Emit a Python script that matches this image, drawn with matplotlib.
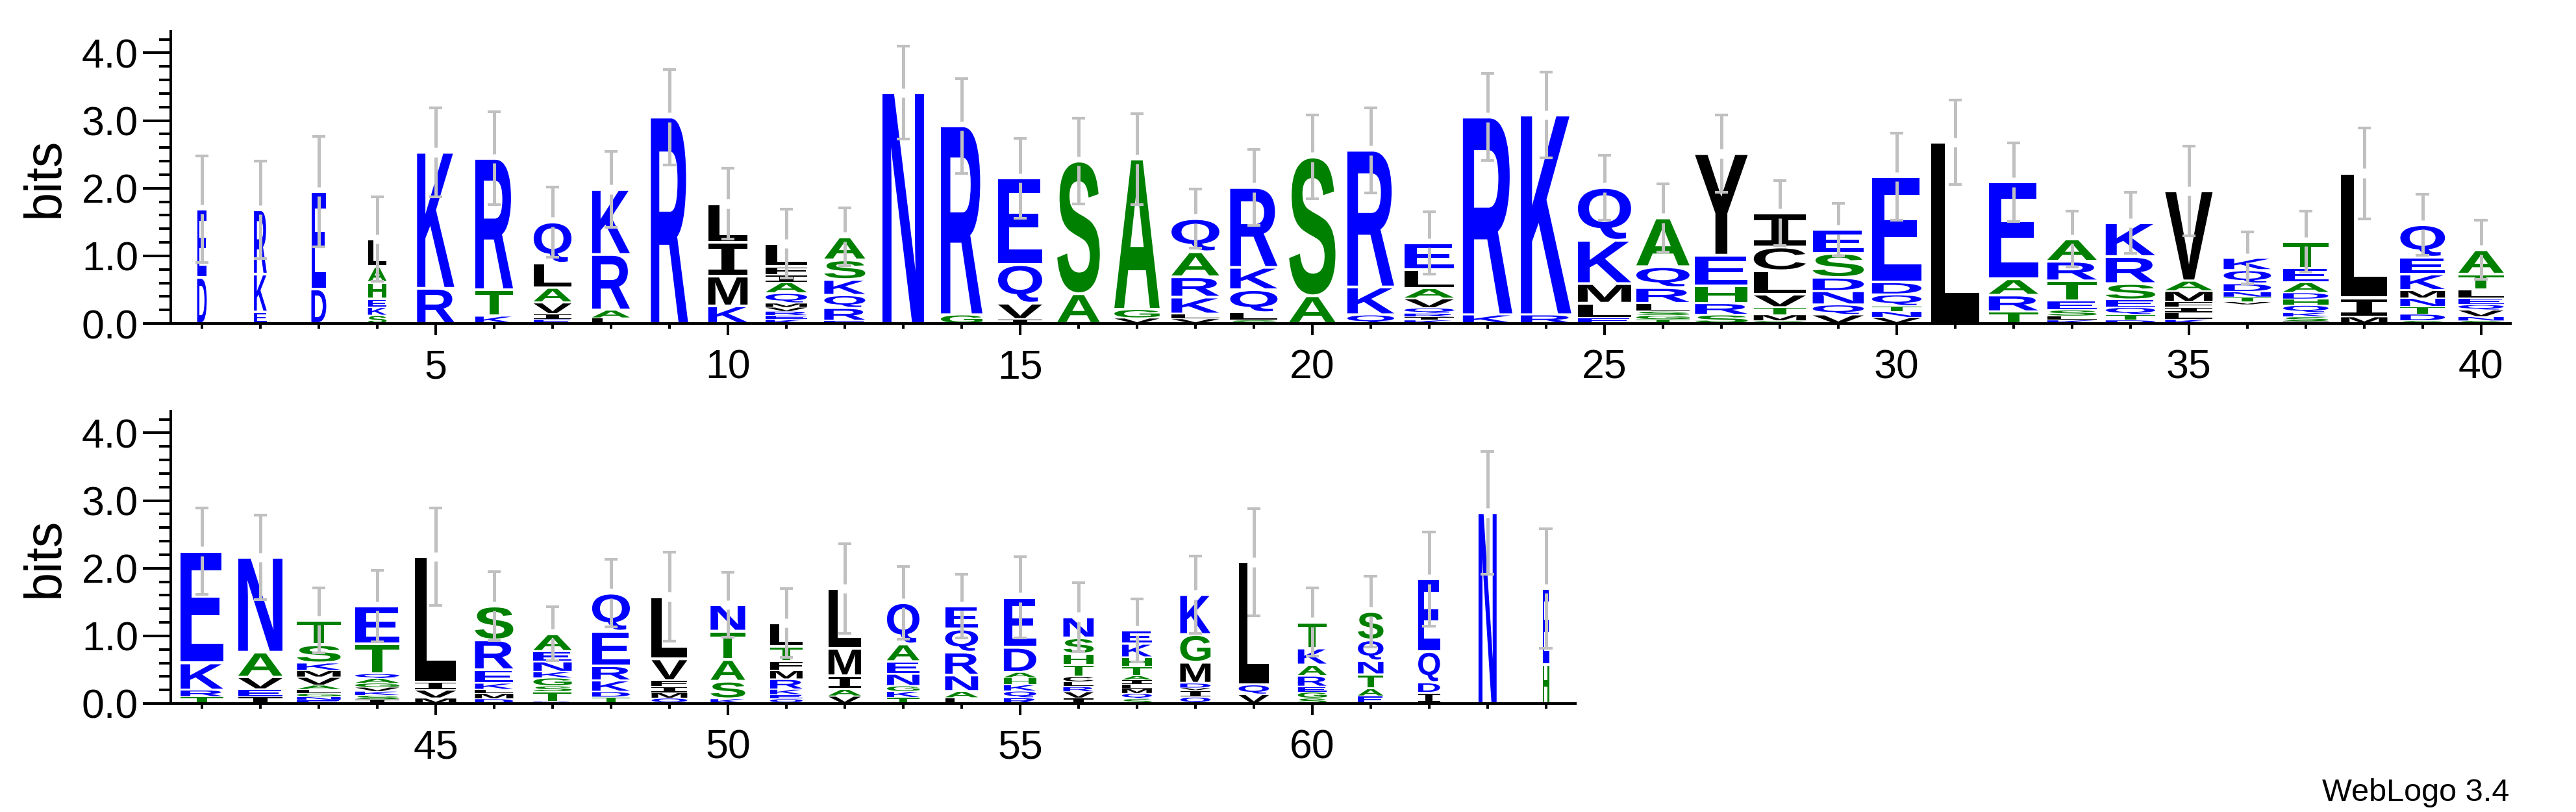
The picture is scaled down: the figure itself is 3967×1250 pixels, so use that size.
import matplotlib
matplotlib.use("Agg")
import matplotlib.pyplot as plt
from matplotlib.textpath import TextPath
from matplotlib.font_manager import FontProperties
from matplotlib.patches import PathPatch
from matplotlib.transforms import Affine2D
from matplotlib.ticker import MultipleLocator

# letters of each stack, bottom to top (' ' = empty space)
stack_letters = [
    "DE", "EKR", "DE", "SKEHAL", "RK", "KTR", "EIVALQ", "LARK", "R", "KMIL",
    "KERVMQAIFL", "ERQKSA", "N", "GR", "IVQE", "AS", "VGA", "VLKRAQ", "SLQKR", "AS",
    "QKR", "KIRQVALE", "KR", "RK", "ELMKQ", "TGSLRQA", "SRHEY", "GMTVLCI", "VQNDSE", "VNTQDE",
    "L", "TRAE", "KLSETRA", "DTQESRK", "KLIFMAV", " VTNDQK", "ISKQHDAET", "MIL", "SDTNMKEQ", "SNVQELTA",
    "TRKE", "IEVAN", "ENGLAVMKST", "ISKVGAQTE", "MVIL", "DMLKERS", "RTSGKNEA", "TDKREQ", "QMIFVL", "KSATN",
    "QEKRMFTL", "VAIML", "TKGNEAQ", "LANRQE", "RQKHADE", "IVRLCTHSN", "SQMLIATHKE", "QIVDMGK", "VQL", "SGERAKT",
    "EATNQS", "IDQE", "N", "HE",
]

# bits of each letter, same order
stack_heights = [
    [0.68, 1.01], [0.17, 0.56, 0.95], [0.51, 1.44], [0.12, 0.12, 0.12, 0.25, 0.23, 0.41],
    [0.52, 2.01], [0.11, 0.39, 1.94], [0.06, 0.08, 0.17, 0.22, 0.36, 0.61], [0.08, 0.12, 0.82, 0.96],
    [3.05], [0.26, 0.44, 0.50, 0.57],
    [0.06, 0.06, 0.06, 0.06, 0.06, 0.15, 0.16, 0.11, 0.12, 0.34], [0.04, 0.19, 0.19, 0.23, 0.29, 0.34],
    [3.41], [0.13, 2.79], [0.06, 0.24, 0.57, 1.28], [0.44, 1.96], [0.08, 0.13, 2.22],
    [0.07, 0.07, 0.25, 0.30, 0.37, 0.49], [0.05, 0.11, 0.34, 0.33, 1.18], [0.41, 2.05],
    [0.13, 0.41, 2.02], [0.05, 0.05, 0.05, 0.08, 0.14, 0.15, 0.28, 0.39], [0.13, 2.92], [0.13, 2.95],
    [0.08, 0.22, 0.29, 0.64, 0.78], [0.06, 0.06, 0.06, 0.12, 0.23, 0.31, 0.72],
    [0.13, 0.17, 0.26, 0.45, 1.50], [0.04, 0.09, 0.11, 0.19, 0.35, 0.35, 0.50],
    [0.13, 0.15, 0.20, 0.20, 0.36, 0.35], [0.09, 0.09, 0.08, 0.17, 0.18, 1.56],
    [2.68], [0.175, 0.245, 0.24, 1.43], [0.05, 0.06, 0.09, 0.14, 0.29, 0.29, 0.33],
    [0.05, 0.08, 0.11, 0.11, 0.24, 0.40, 0.50], [0.06, 0.10, 0.08, 0.08, 0.16, 0.15, 1.33],
    [0.28, 0.04, 0.07, 0.08, 0.12, 0.20, 0.18], [0.03, 0.07, 0.06, 0.11, 0.09, 0.095, 0.155, 0.21, 0.39],
    [0.10, 0.28, 1.84], [0.04, 0.10, 0.11, 0.125, 0.115, 0.24, 0.25, 0.48],
    [0.04, 0.06, 0.10, 0.08, 0.095, 0.125, 0.23, 0.36],
    [0.10, 0.10, 0.40, 1.65], [0.10, 0.11, 0.18, 0.37, 1.40],
    [0.05, 0.05, 0.05, 0.06, 0.06, 0.12, 0.10, 0.11, 0.27, 0.36],
    [0.06, 0.06, 0.06, 0.06, 0.06, 0.07, 0.07, 0.44, 0.56], [0.08, 0.12, 0.12, 1.85],
    [0.07, 0.08, 0.06, 0.09, 0.20, 0.44, 0.50], [0.03, 0.145, 0.085, 0.12, 0.09, 0.15, 0.15, 0.26],
    [0.095, 0.08, 0.165, 0.215, 0.515, 0.56], [0.08, 0.08, 0.09, 0.09, 0.32, 0.92],
    [0.07, 0.26, 0.32, 0.42, 0.39], [0.07, 0.06, 0.08, 0.15, 0.13, 0.14, 0.21, 0.35],
    [0.11, 0.10, 0.20, 0.405, 0.885], [0.09, 0.09, 0.08, 0.18, 0.18, 0.26, 0.61],
    [0.085, 0.095, 0.24, 0.34, 0.34, 0.34], [0.085, 0.10, 0.095, 0.10, 0.08, 0.37, 0.74],
    [0.08, 0.095, 0.075, 0.07, 0.08, 0.17, 0.16, 0.24, 0.31],
    [0.07, 0.08, 0.07, 0.06, 0.07, 0.06, 0.14, 0.13, 0.205, 0.195],
    [0.095, 0.10, 0.035, 0.07, 0.31, 0.41, 0.59], [0.135, 0.145, 1.81],
    [0.08, 0.09, 0.08, 0.16, 0.16, 0.25, 0.385], [0.11, 0.11, 0.21, 0.20, 0.31, 0.42],
    [0.16, 0.15, 0.46, 1.07], [2.82], [0.58, 1.12],
]

# fraction of non-gap residues (sets the stack width)
stack_occupancy = [
    0.18, 0.24, 0.28, 0.35, 0.70, 0.71, 0.71, 0.71, 0.70, 0.74,
    0.78, 0.77, 0.78, 0.78, 0.83, 0.80, 0.85, 0.90, 0.89, 0.87,
    0.88, 0.93, 0.93, 0.95, 1.00, 1.00, 0.99, 0.98, 0.96, 0.93,
    0.91, 0.93, 0.93, 0.93, 0.89, 0.89, 0.85, 0.87, 0.84, 0.85,
    0.80, 0.83, 0.82, 0.83, 0.77, 0.72, 0.72, 0.71, 0.67, 0.65,
    0.61, 0.61, 0.61, 0.62, 0.61, 0.57, 0.56, 0.57, 0.57, 0.54,
    0.48, 0.41, 0.34, 0.12,
]

# half length of the error bar (bits)
stack_error = [
    0.79, 0.72, 0.815, 0.625, 0.66, 0.685, 0.52, 0.56, 0.705, 0.52,
    0.51, 0.425, 0.685, 0.70, 0.59, 0.63, 0.675, 0.44, 0.56, 0.62,
    0.63, 0.46, 0.645, 0.635, 0.48, 0.50, 0.575, 0.48, 0.39, 0.64,
    0.625, 0.58, 0.41, 0.45, 0.66, 0.38, 0.45, 0.67, 0.45, 0.44,
    0.64, 0.62, 0.48, 0.525, 0.72, 0.51, 0.40, 0.50, 0.66, 0.48,
    0.51, 0.66, 0.54, 0.47, 0.60, 0.51, 0.47, 0.57, 0.79, 0.50,
    0.52, 0.695, 0.905, 0.88,
]

# hydrophobicity colour scheme
letter_color = {}
for c in "RKDENQ":
    letter_color[c] = "#0000ff"
for c in "SGHTAP":
    letter_color[c] = "#008000"
for c in "YVMCLFIW":
    letter_color[c] = "#000000"

font_bold = FontProperties(family="Liberation Sans", weight="bold")
font_serif_i = FontProperties(family="DejaVu Sans Mono", weight="bold")
tick_font = "Liberation Sans"

glyphs = {}


def get_glyph(ch):
    if ch not in glyphs:
        p = TextPath((0, 0), ch, size=1, prop=font_serif_i if ch == "I" else font_bold)
        glyphs[ch] = (p, p.get_extents())
    return glyphs[ch]


def draw_letter(ax, ch, x, w, y0, h):
    p, bb = get_glyph(ch)
    pad = min(0.02, 0.08 * h)
    hh = h - 2 * pad
    t = (Affine2D().translate(-bb.x0, -bb.y0)
         .scale(w / bb.width, hh / bb.height)
         .translate(x - w / 2, y0 + pad))
    ax.add_patch(PathPatch(t.transform_path(p), facecolor=letter_color[ch],
                           edgecolor="none", lw=0))


def draw_logo(ax, first, last):
    for pos in range(first, last + 1):
        i = pos - 1
        w = 0.91 * stack_occupancy[i]
        y = 0.0
        for ch, h in zip(stack_letters[i], stack_heights[i]):
            if ch != " ":
                draw_letter(ax, ch, pos, w, y, h)
            y += h
        e = stack_error[i]
        gap = 0.07
        gray = "#c0c0c0"
        ax.vlines(pos, y - e, y - gap, color=gray, lw=3.6, zorder=5)
        ax.vlines(pos, y + gap, y + e, color=gray, lw=3.6, zorder=5)
        ax.hlines([y - e, y + e], pos - 0.115, pos + 0.115, color=gray, lw=3.0, zorder=5)

    ax.set_xlim(first - 0.533, last + 0.5)
    ax.set_ylim(0, 4.32)
    for s in ["top", "right"]:
        ax.spines[s].set_visible(False)
    ax.spines["left"].set_linewidth(2.9)
    ax.spines["bottom"].set_linewidth(2.9)
    ax.set_yticks([0, 1, 2, 3, 4])
    ax.set_yticklabels(["0.0", "1.0", "2.0", "3.0", "4.0"])
    ax.yaxis.set_minor_locator(MultipleLocator(0.2))
    major = [p for p in range(first, last + 1) if p % 5 == 0]
    ax.set_xticks(major)
    ax.set_xticklabels([str(p) for p in major])
    ax.set_xticks(range(first, last + 1), minor=True)
    ax.tick_params(axis="y", which="major", direction="out", length=31, width=2.9,
                   pad=5, labelsize=45)
    ax.tick_params(axis="y", which="minor", direction="out", length=13, width=2.9)
    ax.tick_params(axis="x", which="major", direction="out", length=13, width=2.9,
                   pad=15, labelsize=45)
    ax.tick_params(axis="x", which="minor", direction="out", length=6, width=2.9)
    for lab in ax.get_xticklabels() + ax.get_yticklabels():
        lab.set_fontfamily(tick_font)


fig = plt.figure(figsize=(39.67, 12.5), dpi=100)
ax_top = fig.add_axes([0.0663, 0.6016, 0.9082, 0.36])
ax_bot = fig.add_axes([0.0663, 0.1336, 0.5452, 0.36])
draw_logo(ax_top, 1, 40)
draw_logo(ax_bot, 41, 64)

fig.text(69 / 3967, 1 - 273 / 1250, "bits", rotation=90, ha="center", va="center",
         fontsize=57, family=tick_font)
fig.text(69 / 3967, 1 - 858 / 1250, "bits", rotation=90, ha="center", va="center",
         fontsize=57, family=tick_font)
fig.text(3864 / 3967, 1 - 1233 / 1250, "WebLogo 3.4", ha="right", va="baseline",
         fontsize=35, family=tick_font)

fig.savefig("out.png", dpi=100)
